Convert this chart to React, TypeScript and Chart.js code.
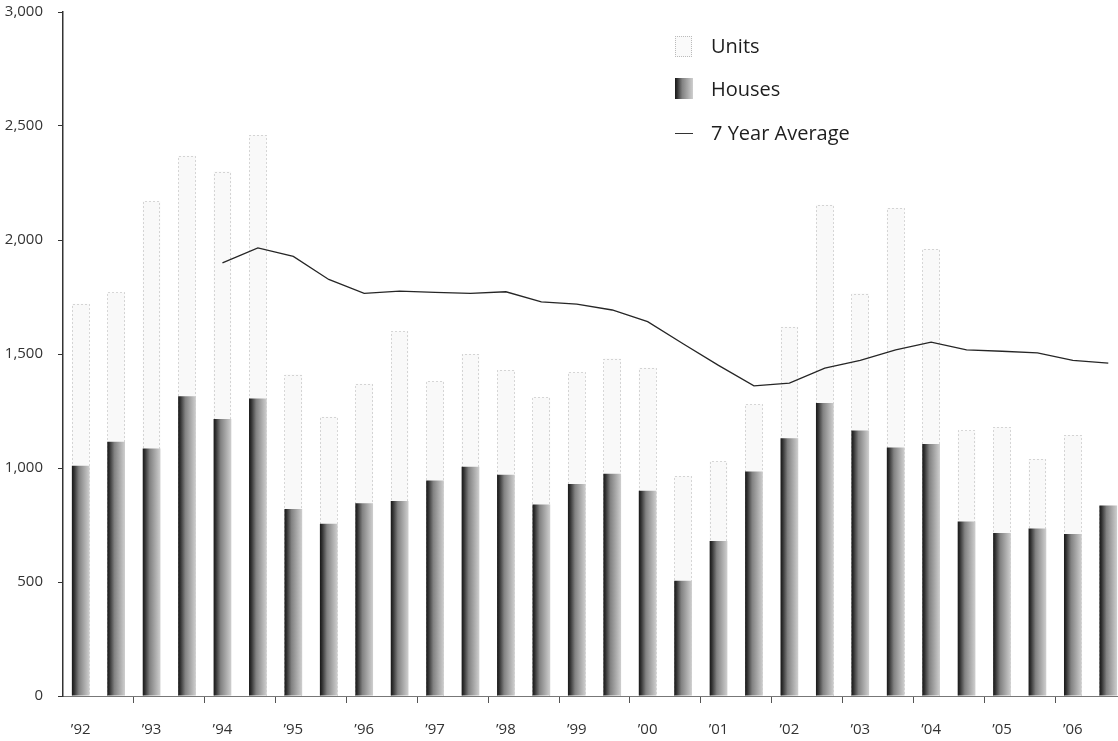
import React, { useEffect, useRef } from 'react';
import { Chart, registerables } from 'chart.js';

Chart.register(...registerables);

// ---- Data ----
const yearLabels = ['’92', '’93', '’94', '’95', '’96', '’97', '’98', '’99', '’00', '’01', '’02', '’03', '’04', '’05', '’06'];
const periods = yearLabels.flatMap((y) => [y + ' H1', y + ' H2']);

const houses = [1010, 1115, 1085, 1315, 1215, 1305, 820, 755, 845, 855, 945, 1005, 970, 840, 930, 975, 900, 505, 680, 985, 1130, 1285, 1165, 1090, 1105, 765, 715, 735, 710, 835];
const units = [1720, 1770, 2170, 2370, 2300, 2460, 1410, 1225, 1370, 1600, 1380, 1500, 1430, 1310, 1420, 1480, 1440, 965, 1030, 1280, 1620, 2155, 1765, 2140, 1960, 1165, 1180, 1040, 1145, 835];
const sevenYearAverage = [null, null, null, null, 1900, 1965, 1928, 1827, 1766, 1776, 1770, 1766, 1773, 1729, 1719, 1693, 1642, 1545, 1450, 1360, 1372, 1438, 1472, 1518, 1552, 1518, 1512, 1505, 1472, 1460];

const yTicks = { min: 0, max: 3000, step: 500 };

const FONT = '"Open Sans", "Noto Sans", sans-serif';
const BAR_FRACTION = 0.5;

function housesGradient(c: any) {
  const chart = c.chart;
  const area = chart.chartArea;
  if (!area || c.type !== 'data') return '#888';
  const cx = chart.scales.x.getPixelForValue(c.dataIndex);
  const w = (area.width / periods.length) * BAR_FRACTION;
  const g = chart.ctx.createLinearGradient(cx - w / 2, 0, cx + w / 2, 0);
  g.addColorStop(0, '#181818');
  g.addColorStop(0.12, '#303030');
  g.addColorStop(0.4, '#828282');
  g.addColorStop(1, '#cfcfcf');
  return g;
}

const unitsOutline = {
  id: 'unitsOutline',
  afterDatasetDraw(chart: any, args: any) {
    if (args.index !== 2) return;
    const ctx = chart.ctx;
    ctx.save();
    ctx.setLineDash([1, 3]);
    ctx.strokeStyle = 'rgba(0,0,0,0.3)';
    ctx.lineWidth = 1;
    args.meta.data.forEach((el: any) => {
      const p = el.getProps(['x', 'y', 'base', 'width'], true);
      const l = Math.round(p.x - p.width / 2) + 0.5;
      const r = Math.round(p.x + p.width / 2) - 0.5;
      const t = Math.round(p.y) + 0.5;
      ctx.beginPath();
      ctx.moveTo(l, p.base);
      ctx.lineTo(l, t);
      ctx.lineTo(r, t);
      ctx.lineTo(r, p.base);
      ctx.stroke();
    });
    ctx.restore();
  },
};

export default function App() {
  const ref = useRef<HTMLCanvasElement | null>(null);

  useEffect(() => {
    if (!ref.current) return;
    const chart = new Chart(ref.current, {
      type: 'bar',
      data: {
        labels: periods,
        datasets: [
          {
            type: 'line',
            label: '7 Year Average',
            data: sevenYearAverage as any,
            borderColor: '#262626',
            borderWidth: 1.3,
            pointRadius: 0,
            tension: 0,
            order: 0,
          } as any,
          {
            type: 'bar',
            label: 'Houses',
            data: houses,
            backgroundColor: housesGradient,
            grouped: false,
            barPercentage: BAR_FRACTION,
            categoryPercentage: 1,
            order: 1,
          } as any,
          {
            type: 'bar',
            label: 'Units',
            data: units,
            backgroundColor: 'rgba(0,0,0,0.022)',
            grouped: false,
            barPercentage: BAR_FRACTION,
            categoryPercentage: 1,
            order: 2,
          } as any,
        ],
      },
      options: {
        responsive: false,
        animation: false,
        layout: { padding: { top: 12, right: 0, left: 0, bottom: 0 } },
        plugins: { legend: { display: false }, tooltip: { enabled: false } },
        scales: {
          x: {
            offset: true,
            grid: {
              offset: true,
              drawOnChartArea: false,
              tickLength: 7,
              color: (c: any) => (c.index > 0 && c.index < periods.length && c.index % 2 === 0 ? '#555' : 'rgba(0,0,0,0)'),
            },
            border: { color: '#777', width: 1 },
            ticks: {
              autoSkip: false,
              maxRotation: 0,
              padding: 18,
              color: '#333',
              font: { family: FONT, size: 15 },
              callback: (_v: any, i: number) => (i % 2 === 0 ? yearLabels[i / 2] : ''),
            },
            afterFit: (s: any) => {
              s.height = 45;
              s.paddingLeft = 0;
              s.paddingRight = 0;
            },
          },
          y: {
            min: yTicks.min,
            max: yTicks.max,
            grid: { drawOnChartArea: false, tickLength: 5, color: '#333' },
            border: { color: '#333', width: 1.5 },
            ticks: {
              stepSize: yTicks.step,
              padding: 15,
              color: '#333',
              font: { family: FONT, size: 15 },
              callback: (v: any) => Number(v).toLocaleString('en-US'),
            },
            afterFit: (s: any) => {
              s.width = 63;
              s.paddingTop = 0;
              s.paddingBottom = 0;
            },
          },
        },
      },
      plugins: [unitsOutline],
    });
    return () => chart.destroy();
  }, []);

  const legendText: React.CSSProperties = {
    position: 'absolute',
    left: 711,
    fontFamily: FONT,
    fontSize: 20,
    color: '#1e1e1e',
    lineHeight: '24px',
    whiteSpace: 'nowrap',
  };

  return (
    <div style={{ position: 'fixed', left: 0, top: 0, width: 1118, height: 741, overflow: 'hidden', background: '#fff' }}>
      <canvas ref={ref} width={1126} height={741} style={{ display: 'block', width: 1126, height: 741 }} />
      <div style={{ position: 'absolute', left: 675, top: 36, width: 17, height: 21, border: '1px dotted rgba(0,0,0,0.25)', background: 'rgba(0,0,0,0.02)', boxSizing: 'border-box' }} />
      <div style={{ ...legendText, top: 34 }}>Units</div>
      <div style={{ position: 'absolute', left: 675, top: 78, width: 18, height: 21, background: 'linear-gradient(to right, #181818 0%, #303030 12%, #828282 40%, #cfcfcf 100%)' }} />
      <div style={{ ...legendText, top: 77 }}>Houses</div>
      <div style={{ position: 'absolute', left: 675, top: 133, width: 18, height: 1.3, background: '#333' }} />
      <div style={{ ...legendText, top: 121 }}>7 Year Average</div>
    </div>
  );
}
